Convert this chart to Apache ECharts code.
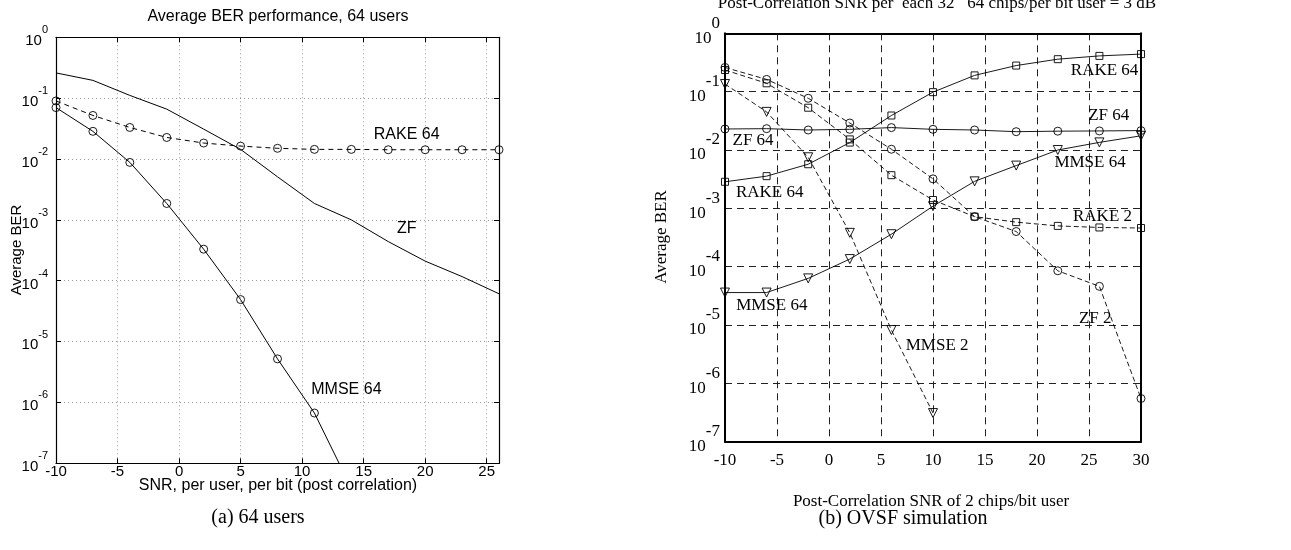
<!DOCTYPE html>
<html>
<head>
<meta charset="utf-8">
<script src="https://cdn.jsdelivr.net/npm/echarts@6/dist/echarts.min.js"></script>
<style>
  html, body { margin: 0; padding: 0; background: #fff; }
  #c { width: 1291px; height: 550px; }
</style>
</head>
<body>
<div id="c"></div>
<script>
// ---- (a) 64 users: average BER vs post-correlation SNR ----
const snrA = [-10, -7, -4, -1, 2, 5, 8, 11, 14, 17, 20, 23, 26];
const rake64A = [0.09, 0.052, 0.033, 0.0226, 0.0183, 0.0163, 0.015, 0.0144, 0.0144, 0.0142, 0.0142, 0.0142, 0.0142];
const zfA = [0.26, 0.196, 0.111, 0.066, 0.031, 0.0144, 0.0051, 0.00186, 0.001, 0.00044, 0.00021, 0.000117, 0.000061];
const snrMmseA = [-10, -7, -4, -1, 2, 5, 8, 11, 14];
const mmse64A = [0.07, 0.0285, 0.0088, 0.00186, 0.00033, 0.000049, 0.0000052, 0.00000067, 0.000000039];
const xTicksA = [-10, -5, 0, 5, 10, 15, 20, 25];
const labelsA = [
  [18.5, 0.0255, 'RAKE 64'],
  [18.5, 0.00072, 'ZF'],
  [13.6, 0.0000016, 'MMSE 64']
];

// ---- (b) OVSF simulation ----
const snrB = [-10, -6, -2, 2, 6, 10, 14, 18, 22, 26, 30];
const rake64B = [0.00285, 0.00356, 0.0057, 0.0134, 0.039, 0.098, 0.19, 0.28, 0.36, 0.41, 0.44];
const zf64B = [0.0229, 0.0232, 0.022, 0.0226, 0.0242, 0.0226, 0.022, 0.0206, 0.021, 0.0212, 0.0215];
const mmse64B = [0.000036, 0.000036, 0.000063, 0.000135, 0.00036, 0.00109, 0.0029, 0.0054, 0.01, 0.0135, 0.0175];
const rake2B = [0.235, 0.139, 0.053, 0.0152, 0.0037, 0.00139, 0.00072, 0.00058, 0.0005, 0.00047, 0.00046];
const zf2B = [0.26, 0.162, 0.077, 0.029, 0.0103, 0.0032, 0.00072, 0.0004, 0.000085, 0.000046, 0.00000055];
const snrMmse2B = [-10, -6, -2, 2, 6, 10];
const mmse2B = [0.135, 0.045, 0.0075, 0.00038, 0.0000082, 0.00000031];
const xTicksB = [-10, -5, 0, 5, 10, 15, 20, 25, 30];
const labelsB = [
  [26.5, 0.234, 'RAKE 64'],
  [26.9, 0.0396, 'ZF 64'],
  [-7.3, 0.0148, 'ZF 64'],
  [25.1, 0.006, 'MMSE 64'],
  [-5.7, 0.0019, 'RAKE 64'],
  [26.3, 0.00071, 'RAKE 2'],
  [-5.5, 0.000022, 'MMSE 64'],
  [10.4, 0.0000045, 'MMSE 2'],
  [25.6, 0.000013, 'ZF 2']
];

const SANS = 'Liberation Sans, Arial, Helvetica, sans-serif';
const SERIF = 'Liberation Serif, Times New Roman, serif';

const pairs = (xs, ys) => ys.map((y, i) => [xs[i], y]);
const expOf = v => Math.round(Math.log10(v));

// "10" with a raised exponent. The base line box is lineBox tall and sets the
// label height; the exponent sits at its top, the digits are pushed down by drop.
function powerLabel(font, baseSize, expSize, lineBox, drop, margin) {
  return {
    show: true,
    margin: margin,
    formatter: v => '{b|10}{e|' + expOf(v) + '}',
    rich: {
      b: { fontFamily: font, fontSize: baseSize, lineHeight: lineBox, color: '#000', verticalAlign: 'top', padding: [drop, 0, 0, 0] },
      e: { fontFamily: font, fontSize: expSize, lineHeight: expSize, color: '#000', verticalAlign: 'top' }
    }
  };
}

function hollow(symbol, size, dashed, width) {
  return {
    symbol: symbol,
    symbolSize: size,
    symbolRotate: symbol === 'triangle' ? 180 : 0,
    showSymbol: true,
    itemStyle: { color: 'rgba(0,0,0,0)', borderColor: '#000', borderWidth: 0.9 },
    lineStyle: { color: '#000', width: width, type: dashed ? dashed : 'solid' }
  };
}

function lineSeries(gridIdx, name, data, style) {
  return Object.assign({
    type: 'line',
    name: name,
    xAxisIndex: gridIdx * 2,
    yAxisIndex: gridIdx * 2,
    data: data,
    clip: true,
    silent: true,
    z: 3,
    emphasis: { disabled: true }
  }, style);
}

function textSeries(gridIdx, items, font, size) {
  return {
    type: 'scatter',
    xAxisIndex: gridIdx * 2,
    yAxisIndex: gridIdx * 2,
    data: items,
    encode: { x: 0, y: 1 },
    symbol: 'circle',
    symbolSize: 1,
    itemStyle: { color: '#fff', opacity: 1 },
    silent: true,
    z: 5,
    label: {
      show: true,
      position: 'inside',
      formatter: p => p.data[2],
      fontFamily: font,
      fontSize: size,
      color: '#000',
      opacity: 1,
      textBorderWidth: 0,
      textBorderColor: 'transparent'
    }
  };
}

const tickFmt = ticks => v => (ticks.indexOf(v) >= 0 ? String(v) : '');

const option = {
  animation: false,
  backgroundColor: '#fff',
  grid: [
    { left: 56, top: 37.3, width: 443, height: 426, outerBoundsMode: 'none', containLabel: false },
    { left: 725, top: 33.3, width: 416, height: 408.4, outerBoundsMode: 'none', containLabel: false }
  ],
  xAxis: [
    {
      gridIndex: 0, type: 'value', min: -10, max: 26, interval: 5, position: 'bottom',
      axisLine: { show: true, onZero: false, lineStyle: { color: '#000', width: 1.2 } },
      axisTick: { show: true, inside: true, length: 5, lineStyle: { color: '#000' } },
      axisLabel: { margin: 1, fontFamily: SANS, fontSize: 15, color: '#000', formatter: tickFmt(xTicksA) },
      splitLine: { show: true, lineStyle: { color: '#9a9a9a', width: 1, type: [1, 3] } }
    },
    {
      gridIndex: 0, type: 'value', min: -10, max: 26, interval: 5, position: 'top',
      axisLine: { show: true, onZero: false, lineStyle: { color: '#000', width: 1.2 } },
      axisTick: { show: true, inside: true, length: 5, lineStyle: { color: '#000' } },
      axisLabel: { show: false },
      splitLine: { show: false }
    },
    {
      gridIndex: 1, type: 'value', min: -10, max: 30, interval: 5, position: 'bottom',
      axisLine: { show: true, onZero: false, lineStyle: { color: '#000', width: 2 } },
      axisTick: { show: false },
      axisLabel: { margin: 10, fontFamily: SERIF, fontSize: 17, color: '#000', formatter: tickFmt(xTicksB) },
      splitLine: { show: true, lineStyle: { color: '#222', width: 1, type: [7, 5] } }
    },
    {
      gridIndex: 1, type: 'value', min: -10, max: 30, interval: 5, position: 'top',
      axisLine: { show: true, onZero: false, lineStyle: { color: '#000', width: 2 } },
      axisTick: { show: false },
      axisLabel: { show: false },
      splitLine: { show: false }
    }
  ],
  yAxis: [
    {
      gridIndex: 0, type: 'log', logBase: 10, min: 1e-7, max: 1, position: 'left',
      axisLine: { show: true, onZero: false, lineStyle: { color: '#000', width: 1.2 } },
      axisTick: { show: true, inside: true, length: 5, lineStyle: { color: '#000' } },
      axisLabel: powerLabel(SANS, 15, 11, 25, 8.7, 8),
      splitLine: { show: true, lineStyle: { color: '#9a9a9a', width: 1, type: [1, 3] } },
      minorTick: { show: false }
    },
    {
      gridIndex: 0, type: 'log', logBase: 10, min: 1e-7, max: 1, position: 'right',
      axisLine: { show: true, onZero: false, lineStyle: { color: '#000', width: 1.2 } },
      axisTick: { show: true, inside: true, length: 5, lineStyle: { color: '#000' } },
      axisLabel: { show: false },
      splitLine: { show: false }
    },
    {
      gridIndex: 1, type: 'log', logBase: 10, min: 1e-7, max: 1, position: 'left',
      axisLine: { show: true, onZero: false, lineStyle: { color: '#000', width: 2 } },
      axisTick: { show: false },
      axisLabel: powerLabel(SERIF, 17, 17, 37, 15, 5),
      splitLine: { show: true, lineStyle: { color: '#222', width: 1, type: [7, 5] } }
    },
    {
      gridIndex: 1, type: 'log', logBase: 10, min: 1e-7, max: 1, position: 'right',
      axisLine: { show: true, onZero: false, lineStyle: { color: '#000', width: 2 } },
      axisTick: { show: false },
      axisLabel: { show: false },
      splitLine: { show: false }
    }
  ],
  series: [
    lineSeries(0, 'ZF', pairs(snrA, zfA), { symbol: 'none', lineStyle: { color: '#000', width: 1 } }),
    lineSeries(0, 'RAKE 64', pairs(snrA, rake64A), hollow('circle', 8, [5, 4], 1)),
    lineSeries(0, 'MMSE 64', pairs(snrMmseA, mmse64A), hollow('circle', 8, null, 1)),
    textSeries(0, labelsA, SANS, 16),

    lineSeries(1, 'RAKE 64', pairs(snrB, rake64B), hollow('rect', 7, null, 0.9)),
    lineSeries(1, 'ZF 64', pairs(snrB, zf64B), hollow('circle', 8, null, 0.9)),
    lineSeries(1, 'MMSE 64', pairs(snrB, mmse64B), hollow('triangle', 9, null, 0.9)),
    lineSeries(1, 'RAKE 2', pairs(snrB, rake2B), hollow('rect', 7, [5, 3], 0.9)),
    lineSeries(1, 'ZF 2', pairs(snrB, zf2B), hollow('circle', 8, [5, 3], 0.9)),
    lineSeries(1, 'MMSE 2', pairs(snrMmse2B, mmse2B), hollow('triangle', 9, [5, 3], 0.9)),
    textSeries(1, labelsB, SERIF, 17)
  ],
  graphic: [
    { type: 'text', x: 278, y: 17, style: { text: 'Average BER performance, 64 users', font: '16px ' + SANS, fill: '#000', align: 'center', verticalAlign: 'middle' } },
    { type: 'text', x: 278, y: 486, style: { text: 'SNR, per user, per bit (post correlation)', font: '16px ' + SANS, fill: '#000', align: 'center', verticalAlign: 'middle' } },
    { type: 'text', x: 17, y: 250, rotation: Math.PI / 2, style: { text: 'Average BER', font: '15px ' + SANS, fill: '#000', align: 'center', verticalAlign: 'middle' } },
    { type: 'text', x: 258, y: 518, style: { text: '(a) 64 users', font: '20px ' + SERIF, fill: '#000', align: 'center', verticalAlign: 'middle' } },

    { type: 'text', x: 937, y: 3.5, style: { text: 'Post-Correlation SNR per  each 32   64 chips/per bit user = 3 dB', font: '17px ' + SERIF, fill: '#000', align: 'center', verticalAlign: 'middle' } },
    { type: 'text', x: 931, y: 502, style: { text: 'Post-Correlation SNR of 2 chips/bit user', font: '17px ' + SERIF, fill: '#000', align: 'center', verticalAlign: 'middle' } },
    { type: 'text', x: 662, y: 237, rotation: Math.PI / 2, style: { text: 'Average BER', font: '17px ' + SERIF, fill: '#000', align: 'center', verticalAlign: 'middle' } },
    { type: 'text', x: 903, y: 519, style: { text: '(b) OVSF simulation', font: '20px ' + SERIF, fill: '#000', align: 'center', verticalAlign: 'middle' } }
  ]
};

const chart = echarts.init(document.getElementById('c'));
chart.setOption(option);
</script>
</body>
</html>
